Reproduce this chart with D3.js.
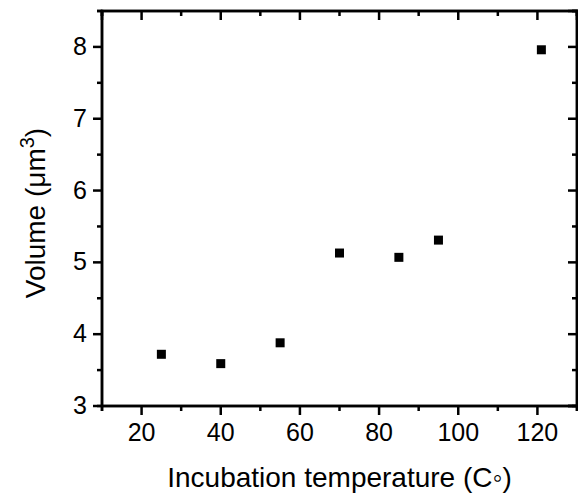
<!DOCTYPE html>
<html>
<head>
<meta charset="utf-8">
<script src="https://cdn.jsdelivr.net/npm/d3@7"></script>
<style>
  body { margin: 0; background: #fff; }
  text { font-family: "Liberation Sans", Arial, sans-serif; fill: #000; }
</style>
</head>
<body>
<script>
// measured temperatures and volumes
const temperatures = [25, 40, 55, 70, 85, 95, 121];
const volumes = [3.72, 3.59, 3.88, 5.13, 5.07, 5.31, 7.96];
const xTicks = [20, 40, 60, 80, 100, 120];
const yTicks = [3, 4, 5, 6, 7, 8];

const width = 578, height = 495;
const margin = { left: 102, right: 1, top: 11, bottom: 89 };

const svg = d3.select('body').append('svg')
  .attr('width', width)
  .attr('height', height);

const x = d3.scaleLinear().domain([10, 130]).range([margin.left, width - margin.right]);
const y = d3.scaleLinear().domain([3, 8.5]).range([height - margin.bottom, margin.top]);

const minorX = d3.range(10, 131, 10).filter(v => !xTicks.includes(v));
const minorY = d3.range(3, 8.6, 0.5).filter(v => !yTicks.includes(v));

const majorLen = 9, minorLen = 5;

// bottom axis, ticks outward
const bottomAxis = svg.append('g').attr('transform', `translate(0,${y(3)})`);
bottomAxis.call(d3.axisBottom(x).offset(0).tickValues(xTicks).tickSizeInner(majorLen).tickSizeOuter(0).tickPadding(8));
bottomAxis.append('g').call(d3.axisBottom(x).offset(0).tickValues(minorX).tickSize(minorLen).tickFormat(''));

// left axis, ticks outward
const leftAxis = svg.append('g').attr('transform', `translate(${x(10)},0)`);
leftAxis.call(d3.axisLeft(y).offset(0).tickValues(yTicks).tickSizeInner(majorLen).tickSizeOuter(0).tickPadding(6).tickFormat(d3.format('d')));
leftAxis.append('g').call(d3.axisLeft(y).offset(0).tickValues(minorY).tickSize(minorLen).tickFormat(''));

// top axis, ticks inward
const topAxis = svg.append('g').attr('transform', `translate(0,${y(8.5)})`);
topAxis.call(d3.axisTop(x).offset(0).tickValues(xTicks).tickSize(-majorLen).tickFormat(''));
topAxis.append('g').call(d3.axisTop(x).offset(0).tickValues(minorX).tickSize(-minorLen).tickFormat(''));

// right axis, ticks inward
const rightAxis = svg.append('g').attr('transform', `translate(${x(130)},0)`);
rightAxis.call(d3.axisRight(y).offset(0).tickValues(yTicks).tickSize(-majorLen).tickFormat(''));
rightAxis.append('g').call(d3.axisRight(y).offset(0).tickValues(minorY).tickSize(-minorLen).tickFormat(''));

svg.selectAll('.domain').attr('stroke', '#000').attr('stroke-width', 2.5);
svg.selectAll('.tick line').attr('stroke', '#000').attr('stroke-width', 2.5);
svg.selectAll('.tick text').style('font-size', '25px').style('font-family', '"Liberation Sans", Arial, sans-serif');

// points
const sq = 9;
svg.append('g').selectAll('rect')
  .data(temperatures)
  .enter()
  .append('rect')
  .attr('x', (d) => x(d) - sq / 2)
  .attr('y', (d, i) => y(volumes[i]) - sq / 2)
  .attr('width', sq)
  .attr('height', sq)
  .attr('fill', '#000');

// axis titles
const xTitle = svg.append('text')
  .attr('x', (x(10) + x(130)) / 2)
  .attr('y', 487)
  .attr('text-anchor', 'middle')
  .style('font-size', '28px');
xTitle.append('tspan').text('Incubation temperature (C');
xTitle.append('tspan').text('\u25e6');
xTitle.append('tspan').text(')');

const yTitle = svg.append('text')
  .attr('transform', 'translate(45,213) rotate(-90)')
  .attr('text-anchor', 'middle')
  .style('font-size', '28px');
yTitle.append('tspan').text('Volume (\u03bcm');
yTitle.append('tspan').attr('dy', -11).style('font-size', '20px').text('3');
yTitle.append('tspan').attr('dy', 11).text(')');
</script>
</body>
</html>
